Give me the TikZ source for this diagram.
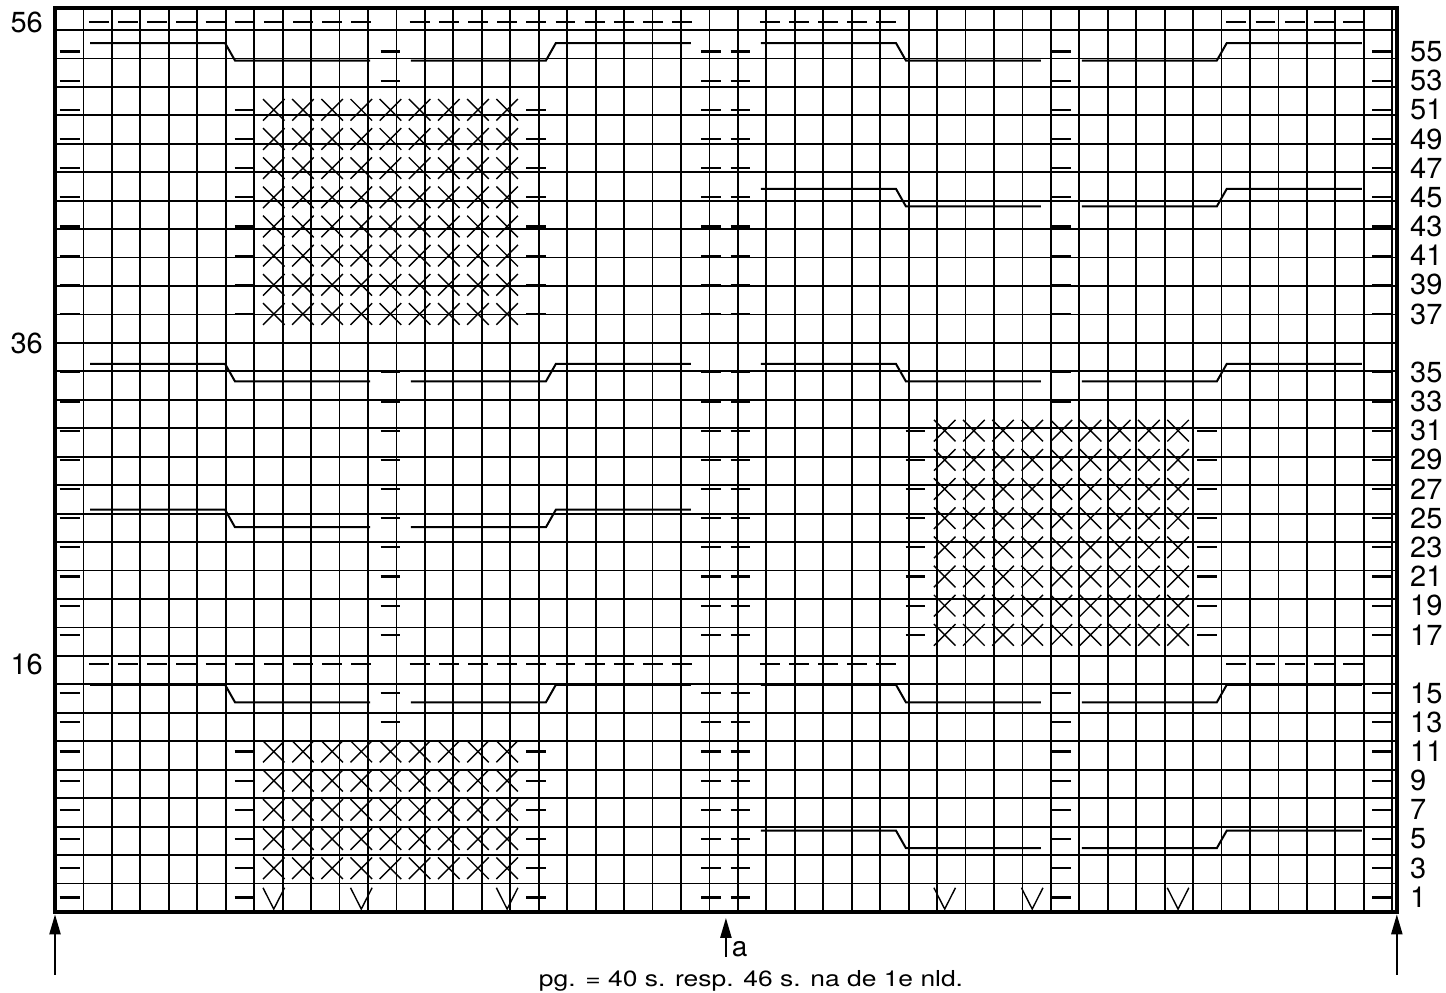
\documentclass[tikz,border=0pt]{standalone}
\usepackage{fontspec}
\setmainfont{TeX Gyre Heros}
\usetikzlibrary{arrows.meta}
\tikzset{
  grd/.style={line width=1.8pt},
  frm/.style={line width=3.6pt},
  prl/.style={line width=2.2pt},
  crs/.style={line width=1.4pt},
  cbl/.style={line width=2pt, line join=miter},
  num/.style={inner sep=0pt, font=\fontsize{29}{29}\selectfont},
  up/.style={-{Triangle[length=20pt,width=11pt]}, line width=2.2pt},
}
\newcommand{\purl}[2]{\draw[prl] (#1-0.84,#2-0.5) -- (#1-0.16,#2-0.5);}
\newcommand{\knx}[2]{\draw[crs] (#1-0.87,#2-0.87) -- (#1-0.13,#2-0.13) (#1-0.87,#2-0.13) -- (#1-0.13,#2-0.87);}
\newcommand{\slp}[2]{\draw[crs] (#1-0.87,#2-0.17) -- (#1-0.5,#2-0.9) -- (#1-0.13,#2-0.17);}
\newcommand{\cabdn}[2]{\draw[cbl] (#1+0.2,#2-0.21) -- (#1+4.83,#2-0.21) -- (#1+5.17,#2-0.81) -- (#1+9.8,#2-0.81);}
\newcommand{\cabup}[2]{\draw[cbl] (#1+0.2,#2-0.81) -- (#1+4.83,#2-0.81) -- (#1+5.17,#2-0.21) -- (#1+9.8,#2-0.21);}

\begin{document}
\begin{tikzpicture}[x=29.17pt, y=29.17pt]
  \useasboundingbox (-1.886,-2.777) rectangle (47.686,31.265);
  \draw[grd] (0,0) grid (46,31);
  % purl columns
  \foreach \y in {1,...,8,10,11,...,19,21,22,...,30} {\purl{1}{\y} \purl{23}{\y} \purl{24}{\y} \purl{46}{\y}}
  \foreach \y in {7,8,10,11,...,19,29,30} {\purl{12}{\y}}
  \foreach \y in {1,...,8,18,19,21,22,...,30} {\purl{35}{\y}}
  % purl ridges
  \foreach \y in {9,31} {\foreach \x in {2,...,11,13,14,...,22,25,26,...,29,41,42,...,45} {\purl{\x}{\y}}}
  \foreach \x in {2,...,6,18,19,...,22,25,26,...,34,36,37,...,45} {\purl{\x}{20}}
  % blocks
  \foreach \y in {1,...,6,21,22,...,28} {\purl{7}{\y} \purl{17}{\y}}
  \foreach \y in {2,...,6,21,22,...,28} {\foreach \x in {8,...,16} {\knx{\x}{\y}}}
  \foreach \y in {10,...,17} {\purl{30}{\y} \purl{40}{\y} \foreach \x in {31,...,39} {\knx{\x}{\y}}}
  \foreach \x in {8,11,16,31,34,39} {\slp{\x}{1}}
  % cables
  \foreach \y in {30,19,14,8} {\cabdn{1}{\y} \cabup{12}{\y}}
  \foreach \y in {30,25,19,8,3} {\cabdn{24}{\y} \cabup{35}{\y}}
  \draw[frm] (0,0) rectangle (46,31);
  % row numbers
  \foreach \y in {1,...,8,10,11,...,19,21,22,...,30} {
    \pgfmathtruncatemacro\n{2*\y-1-2*(\y>9)-2*(\y>20)}
    \node[num, anchor=west] (r\n) at (46.45,\y-0.5) {\n};
  }
  \foreach \y/\n in {9/16,20/36,31/56} {\node[num, anchor=east] (l\n) at (-0.41,\y-0.5) {\n};}
  \coordinate (bl) at (0,-0.08);
  \coordinate (bm) at (23,-0.2);
  \coordinate (br) at (46,-0.08);
  \coordinate (tl) at (0,-2.16);
  \coordinate (tm) at (23,-1.54);
  \coordinate (tr) at (46,-2.16);
  \draw[up] (tl) -- (bl);
  \draw[up] (tm) -- (bm);
  \draw[up] (tr) -- (br);
  \node[inner sep=0pt, anchor=base west, font=\fontsize{28}{28}\selectfont] (a) at (23.2,-1.51) {a};
  \node[inner sep=0pt, anchor=base, font=\fontsize{22}{22}\selectfont] (note) at (23.86,-2.56)
    {\scalebox{1.2}[1]{pg. = 40 s. resp. 46 s. na de 1e nld.}};
\end{tikzpicture}
\end{document}
